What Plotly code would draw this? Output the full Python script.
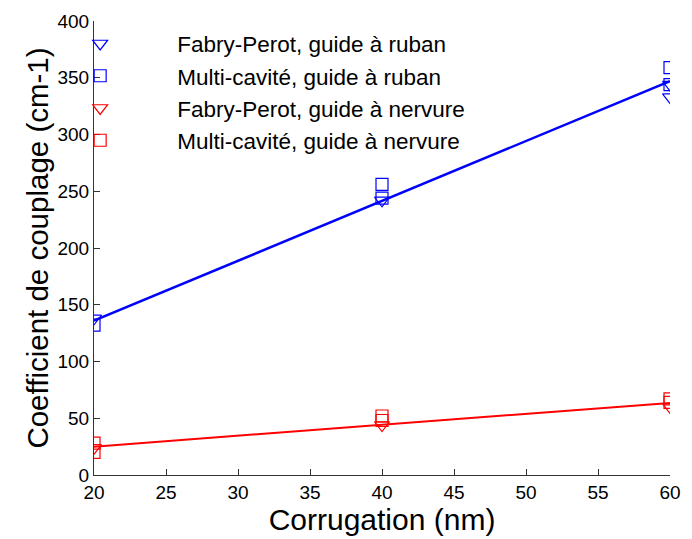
import plotly.graph_objects as go

# Data
fp_ruban_x = [20, 40, 60, 60]
fp_ruban_y = [138, 242, 344, 333]
mc_ruban_x = [20, 40, 40, 60, 60]
mc_ruban_y = [132, 256, 244, 359, 344]
fp_nerv_x = [20, 40, 60]
fp_nerv_y = [24, 44, 60]
mc_nerv_x = [20, 20, 40, 40, 60, 60]
mc_nerv_y = [28, 20, 52, 48, 67, 64]
fit_x = [20, 60]
fit_ruban_y = [136, 347]
fit_nerv_y = [25, 63.5]

x_ticks = [20, 25, 30, 35, 40, 45, 50, 55, 60]
y_ticks = [0, 50, 100, 150, 200, 250, 300, 350, 400]

BLUE = "#0000ff"
RED = "#ff0000"
FONT = "Liberation Sans, Arial, sans-serif"

fig = go.Figure()
fig.add_trace(go.Scatter(x=fit_x, y=fit_ruban_y, mode="lines",
                         line=dict(color=BLUE, width=2.5), showlegend=False))
fig.add_trace(go.Scatter(x=fit_x, y=fit_nerv_y, mode="lines",
                         line=dict(color=RED, width=2), showlegend=False))
fig.add_trace(go.Scatter(x=fp_ruban_x, y=fp_ruban_y, mode="markers",
                         name="Fabry-Perot, guide à ruban",
                         marker=dict(symbol="triangle-down-open", size=13, color=BLUE, line=dict(width=1.2))))
fig.add_trace(go.Scatter(x=mc_ruban_x, y=mc_ruban_y, mode="markers",
                         name="Multi-cavité, guide à ruban",
                         marker=dict(symbol="square-open", size=12, color=BLUE, line=dict(width=1.2))))
fig.add_trace(go.Scatter(x=fp_nerv_x, y=fp_nerv_y, mode="markers",
                         name="Fabry-Perot, guide à nervure",
                         marker=dict(symbol="triangle-down-open", size=13, color=RED, line=dict(width=1.2))))
fig.add_trace(go.Scatter(x=mc_nerv_x, y=mc_nerv_y, mode="markers",
                         name="Multi-cavité, guide à nervure",
                         marker=dict(symbol="square-open", size=12, color=RED, line=dict(width=1.2))))

fig.update_layout(
    width=692, height=539,
    margin=dict(l=94, r=11, t=19, b=64),
    paper_bgcolor="white", plot_bgcolor="white",
    font=dict(family=FONT, color="black", size=19),
    legend=dict(x=-0.123, y=0.997, xanchor="left", yanchor="top",
                bgcolor="rgba(0,0,0,0)", font=dict(size=22.5),
                itemwidth=144, tracegroupgap=0),
    xaxis=dict(range=[20, 60], tickvals=x_ticks, ticks="inside", ticklen=6,
               showline=True, linecolor="#333333", linewidth=1.2,
               tickcolor="#333333", showgrid=False, zeroline=False,
               tickfont=dict(size=19),
               title=dict(text="Corrugation (nm)", font=dict(size=30), standoff=1)),
    yaxis=dict(range=[0, 400], tickvals=y_ticks, ticks="inside", ticklen=6,
               showline=True, linecolor="#333333", linewidth=1.2,
               tickcolor="#333333", showgrid=False, zeroline=False,
               tickfont=dict(size=19),
               title=dict(text="Coefficient de couplage (cm-1)", font=dict(size=29.5), standoff=0)),
)

fig.write_html("out.html")
